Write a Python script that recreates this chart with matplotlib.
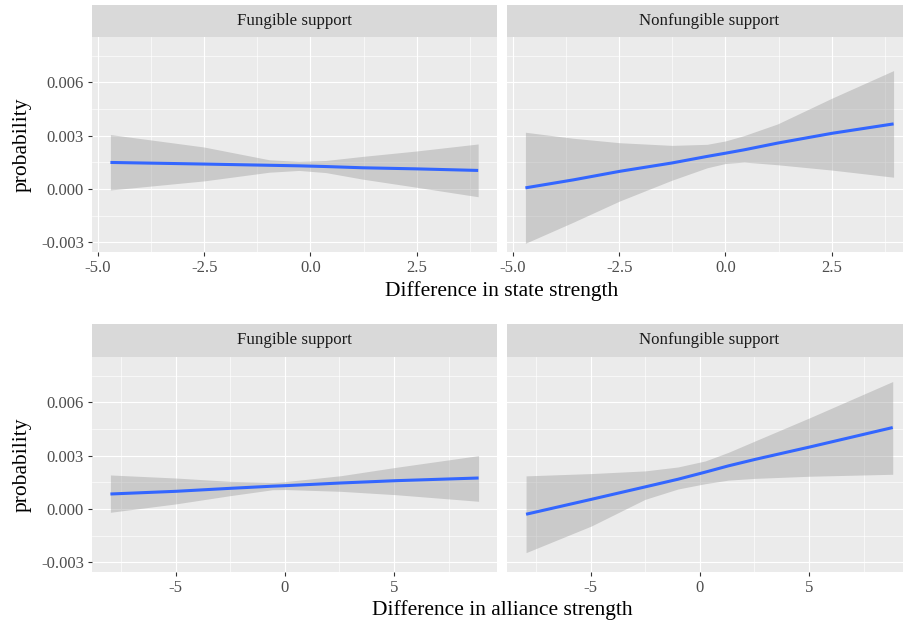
import numpy as np
import matplotlib.pyplot as plt

plt.rcParams['font.family'] = ['Liberation Serif', 'DejaVu Serif']

# facet titles and axis titles
facets = ["Fungible support", "Nonfungible support"]
row_xlabels = ["Difference in state strength", "Difference in alliance strength"]
ylabel = "probability"

# state strength, fungible support
s_fun_x = [-4.71, -2.51, -0.97, -0.27, 0.36, 1.23, 2.48, 3.95]
s_fun_fit = [0.00149, 0.00140, 0.00133, 0.00130, 0.00126, 0.00119, 0.00113, 0.00104]
s_fun_lo = [-0.00006, 0.00045, 0.00094, 0.00104, 0.00092, 0.00055, 0.00010, -0.00044]
s_fun_hi = [0.00306, 0.00236, 0.00164, 0.00155, 0.00160, 0.00183, 0.00213, 0.00253]

# state strength, nonfungible support
s_non_x = [-4.71, -3.58, -2.49, -1.26, -0.43, 0.0, 0.44, 1.23, 2.51, 3.96]
s_non_fit = [0.00006, 0.00051, 0.00099, 0.00146, 0.00183, 0.00201, 0.00220, 0.00258, 0.00313, 0.00366]
s_non_lo = [-0.00306, -0.00187, -0.00068, 0.00049, 0.00119, 0.00143, 0.00151, 0.00136, 0.00106, 0.00066]
s_non_hi = [0.00319, 0.00285, 0.00260, 0.00245, 0.00251, 0.00270, 0.00300, 0.00366, 0.00511, 0.00666]

# alliance strength, fungible support
a_fun_x = [-7.98, -5.0, -2.48, -0.56, 0.05, 2.57, 5.09, 8.87]
a_fun_fit = [0.00084, 0.00099, 0.00116, 0.00128, 0.00131, 0.00146, 0.00159, 0.00174]
a_fun_lo = [-0.00019, 0.00028, 0.00075, 0.00108, 0.00109, 0.00099, 0.00080, 0.00043]
a_fun_hi = [0.00191, 0.00174, 0.00155, 0.00150, 0.00154, 0.00187, 0.00234, 0.00300]

# alliance strength, nonfungible support
a_non_x = [-7.95, -4.96, -2.5, -1.0, 0.25, 1.3, 2.54, 5.05, 8.83]
a_non_fit = [-0.00030, 0.00054, 0.00124, 0.00167, 0.00207, 0.00242, 0.00279, 0.00349, 0.00458]
a_non_lo = [-0.00246, -0.00096, 0.00054, 0.00112, 0.00142, 0.00162, 0.00172, 0.00184, 0.00195]
a_non_hi = [0.00186, 0.00199, 0.00214, 0.00236, 0.00270, 0.00318, 0.00383, 0.00514, 0.00717]

rows = [
    [(s_fun_x, s_fun_fit, s_fun_lo, s_fun_hi), (s_non_x, s_non_fit, s_non_lo, s_non_hi)],
    [(a_fun_x, a_fun_fit, a_fun_lo, a_fun_hi), (a_non_x, a_non_fit, a_non_lo, a_non_hi)],
]
row_xticks = [[-5.0, -2.5, 0.0, 2.5], [-5, 0, 5]]
row_xminor = [[-3.75, -1.25, 1.25, 3.75], [-7.5, -2.5, 2.5, 7.5]]
row_xfmt = ["{:.1f}", "{:d}"]
yticks = [-0.003, 0.0, 0.003, 0.006]
yminor = [-0.0015, 0.0015, 0.0045, 0.0075]

W, H = 904, 624
fig = plt.figure(figsize=(W / 100, H / 100), dpi=100)

def box(x0, y0, w, h):
    # pixel box (top-left origin) -> figure fraction
    return [x0 / W, (H - y0 - h) / H, w / W, h / H]

panel_top = [37, 357]
strip_top = [5, 324]
panel_h = 215
panel_w = 405
panel_left = [92, 507]
xtitle_y = [291, 610]

for r in range(2):
    allx = np.concatenate([np.array(d[0]) for d in rows[r]])
    xmin, xmax = allx.min(), allx.max()
    pad = (xmax - xmin) * 0.05
    for c in range(2):
        x, fit, lo, hi = [np.array(v) for v in rows[r][c]]
        ax = fig.add_axes(box(panel_left[c], panel_top[r], panel_w, panel_h))
        ax.set_facecolor('#EBEBEB')
        ax.fill_between(x, lo, hi, color='#999999', alpha=0.4, linewidth=0, zorder=2)
        ax.plot(x, fit, color='#3366FF', lw=2.2, zorder=3, solid_capstyle='butt')
        ax.set_xlim(xmin - pad, xmax + pad)
        ax.set_ylim(-0.00355, 0.00855)
        ax.set_xticks(row_xticks[r])
        ax.set_xticks(row_xminor[r], minor=True)
        ax.set_xticklabels([row_xfmt[r].format(t) for t in row_xticks[r]])
        ax.set_yticks(yticks)
        ax.set_yticks(yminor, minor=True)
        if c == 0:
            ax.set_yticklabels(["-0.003", "0.000", "0.003", "0.006"])
        else:
            ax.set_yticklabels([])
        ax.grid(which='major', color='white', lw=0.85)
        ax.grid(which='minor', color='white', lw=0.45)
        ax.set_axisbelow(True)
        for s in ax.spines.values():
            s.set_visible(False)
        ax.tick_params(which='major', length=3.2, width=0.8, color='#333333',
                       labelcolor='#4D4D4D', labelsize=12, pad=2.5)
        if c == 1:
            ax.tick_params(axis='y', length=0)
        ax.tick_params(which='minor', length=0)

        sax = fig.add_axes(box(panel_left[c], strip_top[r], panel_w, panel_top[r] - strip_top[r]))
        sax.set_facecolor('#D9D9D9')
        sax.set_xticks([])
        sax.set_yticks([])
        for s in sax.spines.values():
            s.set_visible(False)
        sax.text(0.5, 0.5, facets[c], ha='center', va='center', fontsize=12.2,
                 color='#1A1A1A', transform=sax.transAxes)

    fig.text(502 / W, 1 - xtitle_y[r] / H, row_xlabels[r], ha='center', va='center', fontsize=15.5)
    fig.text(22 / W, 1 - (panel_top[r] + panel_h / 2) / H, ylabel, ha='center', va='center',
             rotation=90, fontsize=15.5)

fig.savefig("out.png", dpi=100)
